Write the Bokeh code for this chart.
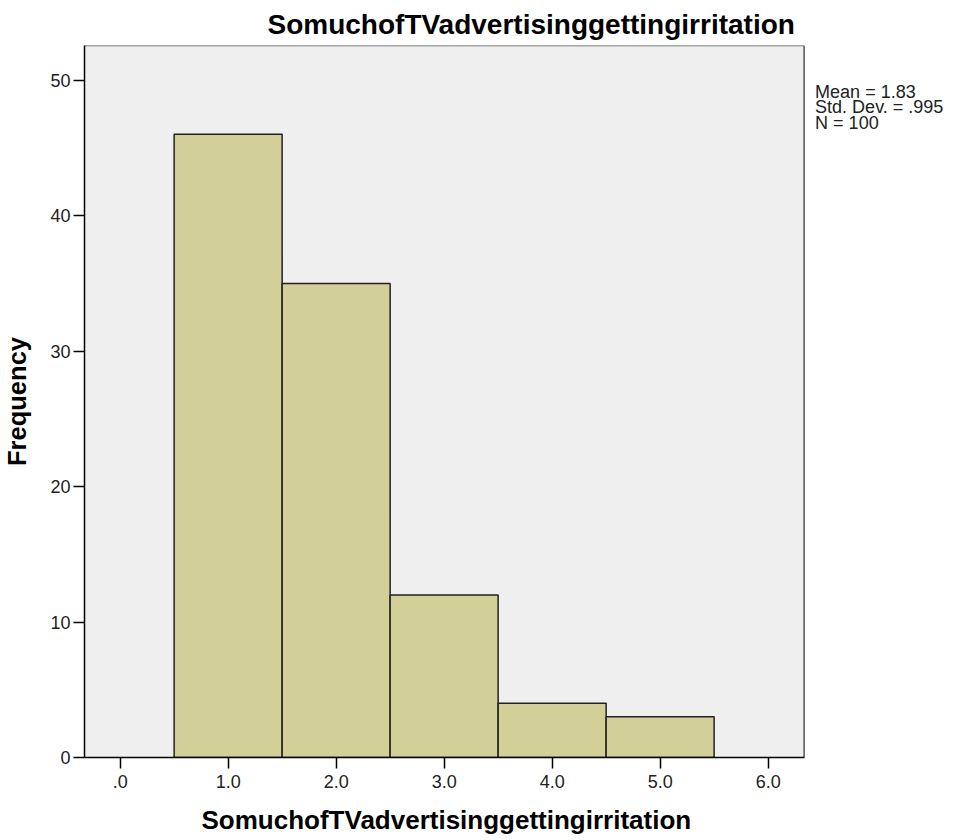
from bokeh.plotting import figure
from bokeh.models import Range1d, FixedTicker, Title
from bokeh.core.properties import value
from bokeh.embed import file_html
from bokeh.resources import INLINE

title_text = "SomuchofTVadvertisinggettingirritation"
x_label_text = "SomuchofTVadvertisinggettingirritation"
y_label_text = "Frequency"
bin_centers = [1.0, 2.0, 3.0, 4.0, 5.0]
frequencies = [46, 35, 12, 4, 3]
x_ticks = [0, 1, 2, 3, 4, 5, 6]
x_tick_labels = [".0", "1.0", "2.0", "3.0", "4.0", "5.0", "6.0"]
y_ticks = [0, 10, 20, 30, 40, 50]
stats_lines = ["Mean = 1.83", "Std. Dev. = .995", "N = 100"]

# plotting-area limits (data units)
X_MIN, X_MAX = -0.33, 6.333
Y_MIN, Y_MAX = 0, 52.56
PX_PER_X = 108.0          # pixels per x unit
PX_PER_Y = 712 / (Y_MAX - Y_MIN)

FONT = "Liberation Sans"
FRAME_W = 862

p = figure(frame_width=FRAME_W, frame_height=712, output_backend="svg", toolbar_location=None,
           x_range=Range1d(X_MIN, X_MIN + FRAME_W / PX_PER_X), y_range=Range1d(Y_MIN, Y_MAX),
           min_border_left=0, min_border_top=0, min_border_right=0, min_border_bottom=0,
           background_fill_color="white", border_fill_color="white")
p.title = None
p.add_layout(Title(text=title_text, align="left", offset=183, text_font=FONT,
                   text_font_size="28px", text_font_style="bold", text_color="black",
                   standoff=12), "above")
p.add_layout(Title(text=x_label_text, align="left", offset=117, text_font=FONT,
                   text_font_size="26px", text_font_style="bold", text_color="black",
                   standoff=24), "below")

p.xgrid.visible = False
p.ygrid.visible = False
p.outline_line_color = None

# plot background panel + top/right border
p.quad(left=[X_MIN], right=[X_MAX], bottom=[Y_MIN], top=[Y_MAX],
       fill_color="#EFEFEF", line_color=None)
p.segment(x0=[X_MIN, X_MAX], y0=[Y_MAX, Y_MIN], x1=[X_MAX, X_MAX], y1=[Y_MAX, Y_MAX],
          line_color="#555555", line_width=1.5)

p.vbar(x=bin_centers, top=frequencies, width=1.0, bottom=0,
       fill_color="#D3CF99", line_color="#222222", line_width=1.5)

for ax in (p.xaxis[0], p.yaxis[0]):
    ax.axis_line_color = "black"
    ax.axis_line_width = 1.5
    ax.major_tick_line_color = "black"
    ax.major_tick_line_width = 1.5
    ax.major_tick_in = 0
    ax.major_tick_out = 11
    ax.minor_tick_line_color = None
    ax.major_label_text_font = FONT
    ax.major_label_text_font_size = "18px"
    ax.major_label_text_color = "#222222"
    ax.axis_label_text_font = FONT
    ax.axis_label_text_font_style = "bold"
    ax.axis_label_text_color = "black"

p.xaxis.ticker = FixedTicker(ticks=x_ticks)
p.xaxis.bounds = (X_MIN, X_MAX)
p.xaxis.major_label_overrides = {t: l for t, l in zip(x_ticks, x_tick_labels)}
p.xaxis.major_label_standoff = 6

p.yaxis.ticker = FixedTicker(ticks=y_ticks)
p.yaxis.major_label_standoff = 3
p.yaxis.axis_label = y_label_text
p.yaxis.axis_label_text_font_size = "25.5px"
p.yaxis.axis_label_standoff = 16

stats_x = [X_MAX + 11 / PX_PER_X] * len(stats_lines)
stats_y = [Y_MAX - (36 + 15.7 * i) / PX_PER_Y for i in range(len(stats_lines))]
p.text(x=stats_x, y=stats_y, text=stats_lines, text_font=value(FONT),
       text_font_size="18px", text_color="#222222", text_baseline="top", text_align="left")

open("out.html", "w").write(file_html(p, INLINE))
